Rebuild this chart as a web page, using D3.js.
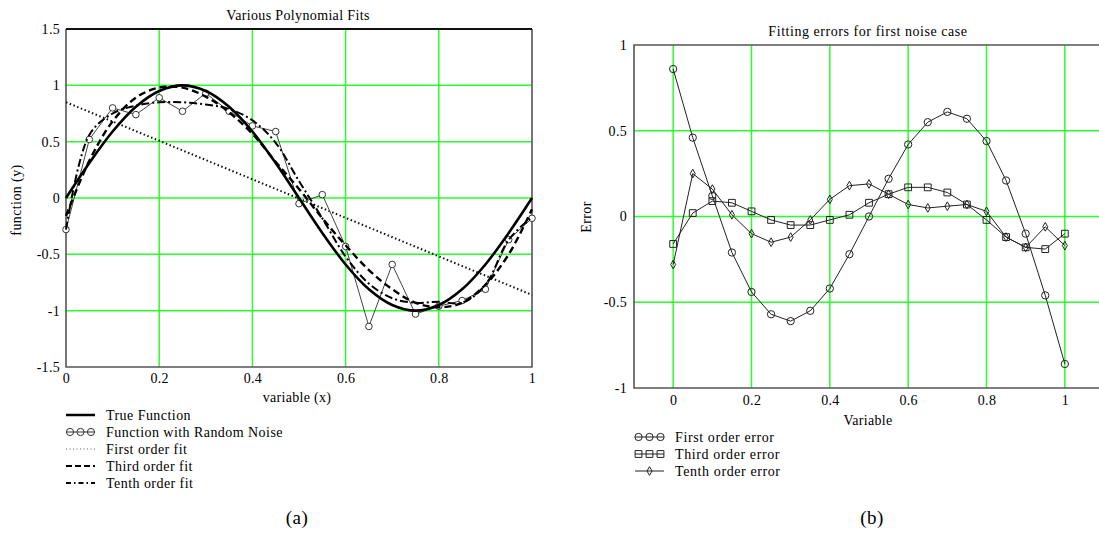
<!DOCTYPE html>
<html>
<head>
<meta charset="utf-8">
<script src="https://cdn.jsdelivr.net/npm/d3@7"></script>
<style>
  body { margin: 0; background: #fff; }
  svg { display: block; }
  text { font-family: "Liberation Serif", Tinos, "Times New Roman", "DejaVu Serif", serif !important; fill: #000; }
</style>
</head>
<body>
<div id="chart"></div>
<script>
// sample positions (both panels)
const xs = [0, 0.05, 0.1, 0.15, 0.2, 0.25, 0.3, 0.35, 0.4, 0.45, 0.5,
            0.55, 0.6, 0.65, 0.7, 0.75, 0.8, 0.85, 0.9, 0.95, 1];

// panel (a)
const trueFn = [0, 0.31, 0.59, 0.81, 0.95, 1, 0.95, 0.81, 0.59, 0.31, 0,
                -0.31, -0.59, -0.81, -0.95, -1, -0.95, -0.81, -0.59, -0.31, 0];
const noisy = [-0.28, 0.52, 0.80, 0.74, 0.89, 0.77, 0.93, 0.77, 0.64, 0.59, -0.05,
               0.03, -0.43, -1.14, -0.59, -1.03, -0.96, -0.91, -0.81, -0.37, -0.18];
const firstFitX = [0, 1];
const firstFit = [0.85, -0.86];
const thirdFit = [-0.16, 0.33, 0.68, 0.89, 0.98, 0.98, 0.90, 0.76, 0.57, 0.32, 0.08,
                  -0.18, -0.42, -0.64, -0.81, -0.93, -0.97, -0.93, -0.77, -0.50, -0.10];
const tenthFit = [-0.28, 0.56, 0.75, 0.82, 0.85, 0.85, 0.83, 0.79, 0.69, 0.49, 0.15,
                  -0.18, -0.52, -0.76, -0.89, -0.93, -0.92, -0.93, -0.77, -0.37, -0.17];
const leftXTicks = [0, 0.2, 0.4, 0.6, 0.8, 1];
const leftYTicks = [-1.5, -1, -0.5, 0, 0.5, 1, 1.5];
const leftLegend = ["True Function", "Function with Random Noise", "First order fit",
                    "Third order fit", "Tenth order fit"];

// panel (b)
const err1 = [0.86, 0.46, 0.12, -0.21, -0.44, -0.57, -0.61, -0.55, -0.42, -0.22, 0.0,
              0.22, 0.42, 0.55, 0.61, 0.57, 0.44, 0.21, -0.10, -0.46, -0.86];
const err3 = [-0.16, 0.02, 0.09, 0.08, 0.03, -0.02, -0.05, -0.05, -0.02, 0.01, 0.08,
              0.13, 0.17, 0.17, 0.14, 0.07, -0.02, -0.12, -0.18, -0.19, -0.10];
const err10 = [-0.28, 0.25, 0.16, 0.01, -0.10, -0.15, -0.12, -0.02, 0.10, 0.18, 0.19,
               0.13, 0.07, 0.05, 0.06, 0.07, 0.03, -0.12, -0.18, -0.06, -0.17];
const rightXTicks = [0, 0.2, 0.4, 0.6, 0.8, 1];
const rightYTicks = [-1, -0.5, 0, 0.5, 1];
const rightLegend = ["First order error", "Third order error", "Tenth order error"];

const GREEN = "#2bff2b";
const FRAME = "#555";
const SERIF = "'Liberation Serif', Tinos, 'Times New Roman', 'DejaVu Serif', serif";

const svg = d3.select("#chart").append("svg")
  .attr("width", 1099)
  .attr("height", 533)
  .attr("font-family", SERIF);

function tickAxes(g, x, y, xt, yt, xPad, yPad) {
  const fmt = d => String(d);
  g.append("g")
    .attr("transform", `translate(0,${y.range()[0]})`)
    .call(d3.axisBottom(x).tickValues(xt).tickSize(0).tickPadding(xPad).tickFormat(fmt))
    .attr("font-family", SERIF)
    .call(a => a.select(".domain").remove())
    .selectAll("text").attr("font-size", 14).attr("letter-spacing", 0.3);
  g.append("g")
    .attr("transform", `translate(${x.range()[0]},0)`)
    .call(d3.axisLeft(y).tickValues(yt).tickSize(0).tickPadding(yPad).tickFormat(fmt))
    .attr("font-family", SERIF)
    .call(a => a.select(".domain").remove())
    .selectAll("text").attr("font-size", 14).attr("letter-spacing", 0.3);
}

function grid(g, x, y, gx, gy) {
  g.append("g").selectAll("line").data(gx).join("line")
    .attr("x1", d => x(d)).attr("x2", d => x(d))
    .attr("y1", y.range()[0]).attr("y2", y.range()[1])
    .attr("stroke", GREEN).attr("stroke-width", 1.5);
  g.append("g").selectAll("line").data(gy).join("line")
    .attr("x1", x.range()[0]).attr("x2", x.range()[1])
    .attr("y1", d => y(d)).attr("y2", d => y(d))
    .attr("stroke", GREEN).attr("stroke-width", 1.5);
}

function label(g, x, y, txt, size, spacing, rotate) {
  const t = g.append("text").attr("text-anchor", "middle")
    .attr("font-size", size).attr("letter-spacing", spacing).text(txt);
  if (rotate) t.attr("transform", `translate(${x},${y}) rotate(-90)`);
  else t.attr("x", x).attr("y", y);
  return t;
}

// ---------- panel (a) ----------
{
  const x = d3.scaleLinear().domain([0, 1]).range([66, 532]);
  const y = d3.scaleLinear().domain([-1.5, 1.5]).range([367, 29]);
  const g = svg.append("g");

  grid(g, x, y, [0.2, 0.4, 0.6, 0.8], [-1, -0.5, 0, 0.5, 1]);

  // frame
  g.append("path")
    .attr("d", `M${x(0)},${y(1.5)}V${y(-1.5)}H${x(1)}V${y(1.5)}`)
    .attr("fill", "none").attr("stroke", FRAME).attr("stroke-width", 1.6);
  g.append("line")
    .attr("x1", x(0)).attr("x2", x(1)).attr("y1", y(1.5)).attr("y2", y(1.5))
    .attr("stroke", "#111").attr("stroke-width", 2);

  tickAxes(g, x, y, leftXTicks, leftYTicks, 6, 6);

  const smooth = d3.line().x((d, i) => x(xs[i])).y(d => y(d)).curve(d3.curveCatmullRom);
  const straight = d3.line().x((d, i) => x(xs[i])).y(d => y(d));

  // first order fit
  g.append("path")
    .attr("d", d3.line().x((d, i) => x(firstFitX[i])).y(d => y(d))(firstFit))
    .attr("fill", "none").attr("stroke", "#111").attr("stroke-width", 2)
    .attr("stroke-dasharray", "1.5,2.5");
  // noisy data
  g.append("path").attr("d", straight(noisy))
    .attr("fill", "none").attr("stroke", "#444").attr("stroke-width", 1);
  g.append("g").selectAll("circle").data(noisy).join("circle")
    .attr("cx", (d, i) => x(xs[i])).attr("cy", d => y(d)).attr("r", 3.3)
    .attr("fill", "#fff").attr("stroke", "#333").attr("stroke-width", 1);
  // third order fit
  g.append("path").attr("d", smooth(thirdFit))
    .attr("fill", "none").attr("stroke", "#000").attr("stroke-width", 2.4)
    .attr("stroke-dasharray", "7,4");
  // tenth order fit
  g.append("path").attr("d", smooth(tenthFit))
    .attr("fill", "none").attr("stroke", "#000").attr("stroke-width", 2)
    .attr("stroke-dasharray", "8,3,2,3");
  // true function
  g.append("path").attr("d", smooth(trueFn))
    .attr("fill", "none").attr("stroke", "#000").attr("stroke-width", 2.6);

  label(g, 298, 20, "Various Polynomial Fits", 14, 0.35);
  label(g, 297, 402, "variable (x)", 14, 0.3);
  label(g, 21, 200, "function (y)", 14, 0.4, true);

  // legend
  const rows = [415, 432, 449, 466, 483];
  const lg = g.append("g");
  lg.selectAll("text").data(leftLegend).join("text")
    .attr("x", 106).attr("y", (d, i) => rows[i] + 5)
    .attr("font-size", 14).attr("letter-spacing", 0.45).text(d => d);
  const seg = (r) => lg.append("line").attr("x1", 66).attr("x2", 95)
    .attr("y1", r).attr("y2", r).attr("fill", "none");
  seg(rows[0]).attr("stroke", "#000").attr("stroke-width", 2.5);
  seg(rows[1]).attr("stroke", "#333").attr("stroke-width", 1);
  lg.selectAll("circle").data([70, 80.5, 91]).join("circle")
    .attr("cx", d => d).attr("cy", rows[1]).attr("r", 3.6)
    .attr("fill", "none").attr("stroke", "#333");
  seg(rows[2]).attr("stroke", "#666").attr("stroke-width", 1).attr("stroke-dasharray", "1,2.5");
  seg(rows[3]).attr("stroke", "#000").attr("stroke-width", 2).attr("stroke-dasharray", "6,3");
  seg(rows[4]).attr("stroke", "#000").attr("stroke-width", 2).attr("stroke-dasharray", "5,3,1.5,3");

  label(g, 297, 524, "(a)", 19, 0.5);
}

// ---------- panel (b) ----------
{
  const x = d3.scaleLinear().domain([-0.1, 1.1]).range([634, 1104]);
  const y = d3.scaleLinear().domain([-1, 1]).range([388, 45]);
  const g = svg.append("g");

  grid(g, x, y, [0, 0.2, 0.4, 0.6, 0.8, 1], [-0.5, 0, 0.5]);

  g.append("path")
    .attr("d", `M${x(1.1)},${y(1)}H${x(-0.1)}V${y(-1)}H${x(1.1)}`)
    .attr("fill", "none").attr("stroke", FRAME).attr("stroke-width", 1.6);

  tickAxes(g, x, y, rightXTicks, rightYTicks, 7, 7);

  const line = d3.line().x((d, i) => x(xs[i])).y(d => y(d));
  const series = [err1, err3, err10];
  series.forEach(s => {
    g.append("path").attr("d", line(s))
      .attr("fill", "none").attr("stroke", "#222").attr("stroke-width", 1);
  });

  const sym = {
    circle: d3.symbol().type(d3.symbolCircle).size(42),
    square: d3.symbol().type(d3.symbolSquare).size(46),
    diamond: d3.symbol().type(d3.symbolDiamond).size(22)
  };
  const kinds = ["circle", "square", "diamond"];
  series.forEach((s, k) => {
    g.append("g").selectAll("path").data(s).join("path")
      .attr("transform", (d, i) => `translate(${x(xs[i])},${y(d)})`)
      .attr("d", sym[kinds[k]]())
      .attr("fill", "none").attr("stroke", "#222").attr("stroke-width", 1);
  });

  label(g, 868, 36, "Fitting errors for first noise case", 14, 0.55);
  label(g, 868, 425, "Variable", 14, 0.3);
  label(g, 591, 217, "Error", 14, 0.4, true);

  const rows = [437, 454, 471];
  const lg = g.append("g");
  lg.selectAll("text").data(rightLegend).join("text")
    .attr("x", 675).attr("y", (d, i) => rows[i] + 5)
    .attr("font-size", 14).attr("letter-spacing", 0.6).text(d => d);
  rows.forEach((r, k) => {
    lg.append("line").attr("x1", 635).attr("x2", 664).attr("y1", r).attr("y2", r)
      .attr("stroke", "#222").attr("stroke-width", 1);
    const pts = k === 2 ? [649.5] : [638.5, 649.5, 660.5];
    pts.forEach(px => {
      lg.append("path").attr("transform", `translate(${px},${r})`)
        .attr("d", sym[kinds[k]]())
        .attr("fill", "none").attr("stroke", "#222").attr("stroke-width", 1);
    });
  });

  label(g, 872, 524, "(b)", 19, 0.5);
}
</script>
</body>
</html>
